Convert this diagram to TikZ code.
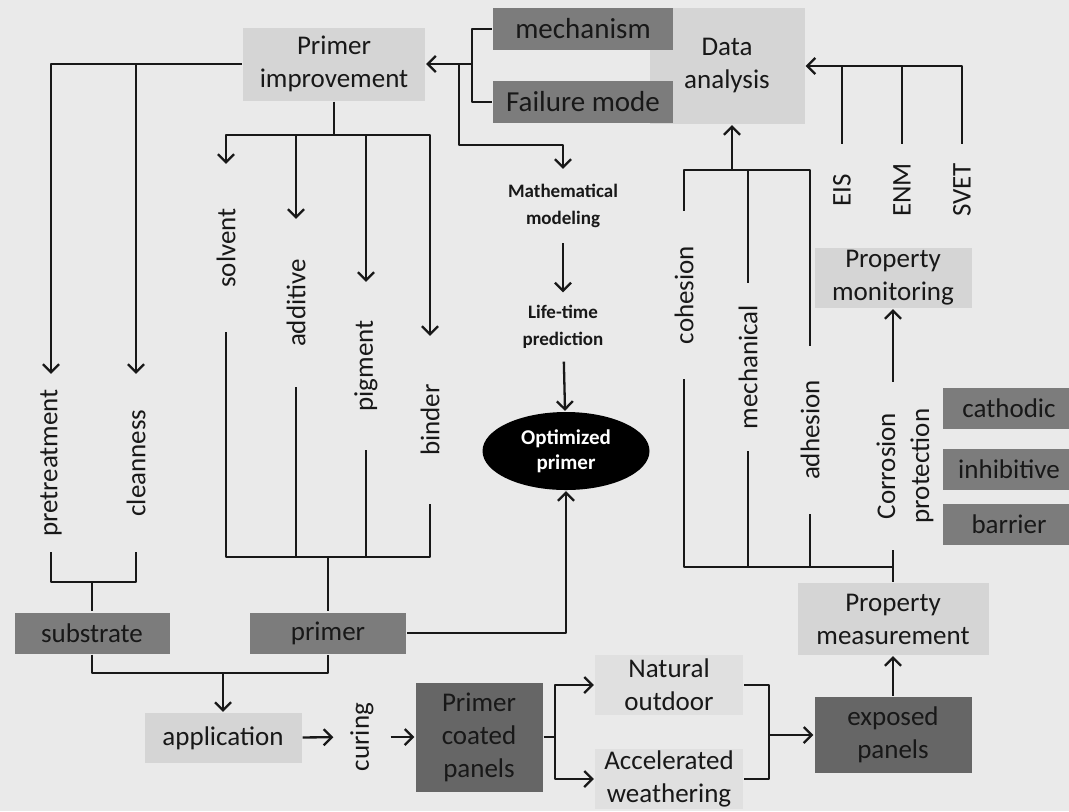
\documentclass[tikz,border=0pt]{standalone}
\usepackage{fontspec}
\setmainfont{Carlito}
\usetikzlibrary{arrows.meta,shapes.geometric}
\definecolor{paper}{RGB}{234,234,234}
\definecolor{boxlight}{RGB}{213,213,213}
\definecolor{boxfaint}{RGB}{224,224,224}
\definecolor{boxdark}{RGB}{124,124,124}
\definecolor{boxdarker}{RGB}{102,102,102}
\definecolor{ink}{RGB}{24,24,24}
\tikzset{
  lightbox/.style={fill=boxlight, inner sep=0pt, align=center},
  darkbox/.style={fill=boxdark, inner sep=0pt, align=center},
  vlabel/.style={rotate=90, inner sep=0pt, minimum width=83pt},
  smallbold/.style={font=\fontsize{9.5}{13.5}\selectfont\bfseries, align=center, inner sep=0pt},
}
\begin{document}
\begin{tikzpicture}[x=0.5pt, y=-0.5pt, font=\fontsize{13.5}{16.5}\selectfont, color=ink, line width=1.15pt, line join=round, >={Straight Barb[length=4pt,width=8pt]}]
	\fill[paper] (0,0) rectangle (1069,811);
	\useasboundingbox (0,0) rectangle (1069,811);
	
	% top row
	\node[lightbox, minimum width=77.5pt, minimum height=58pt] (data) at (727,66) {Data\\analysis};
	\node[darkbox, minimum width=90pt, minimum height=21pt, font=\fontsize{14.5}{17}\selectfont] (mech) at (583,29) {mechanism};
	\node[darkbox, minimum width=90pt, minimum height=21pt, font=\fontsize{14.5}{17}\selectfont] (fail) at (583,102) {Failure mode};
	\node[lightbox, minimum width=91pt, minimum height=36.5pt] (imp) at (334,64) {Primer\\improvement};
	
	% primer ingredients and substrate
	\node[vlabel] (solv) at (226,248) {solvent};
	\node[vlabel] (addi) at (296,303) {additive};
	\node[vlabel] (pigm) at (366,366) {pigment};
	\node[vlabel] (bind) at (430,420) {binder};
	\node[vlabel, minimum width=88pt] (pret) at (51,463) {pretreatment};
	\node[vlabel, minimum width=88pt] (clean) at (136,463) {cleanness};
	
	% modelling branch
	\node[smallbold, minimum height=36pt] (math) at (563,206) {Mathematical\\modeling};
	\node[smallbold, minimum height=33.5pt] (life) at (563,327) {Life-time\\prediction};
	\node[ellipse, fill=black, text=white, font=\fontsize{10.5}{12.5}\selectfont\bfseries, align=center,
	      minimum width=83.5pt, minimum height=39pt, inner sep=0pt] (opt) at (566,451) {Optimized\\primer};
	
	% panel preparation
	\node[darkbox, minimum width=77.5pt, minimum height=20.5pt] (subs) at (92,633) {substrate};
	\node[darkbox, minimum width=78pt, minimum height=20.5pt] (prim) at (328,633) {primer};
	\node[lightbox, minimum width=78.5pt, minimum height=25pt] (appl) at (223,738) {application};
	\node[rotate=90, inner sep=0pt, minimum height=27.5pt] (cur) at (362,737) {curing};
	\node[darkbox, fill=boxdarker, minimum width=63.5pt, minimum height=54.5pt] (pcp) at (479,737) {Primer\\coated\\panels};
	
	% exposure
	\node[lightbox, fill=boxfaint, minimum width=74pt, minimum height=30pt] (nat) at (669,685) {Natural\\outdoor};
	\node[lightbox, fill=boxfaint, minimum width=74pt, minimum height=30pt] (acc) at (669,779) {Accelerated\\weathering};
	\node[darkbox, fill=boxdarker, minimum width=78.5pt, minimum height=38pt] (expo) at (893,735) {exposed\\panels};
	
	% properties
	\node[lightbox, minimum width=95.5pt, minimum height=36pt] (pmeas) at (893,619) {Property\\measurement};
	\node[lightbox, minimum width=78.5pt, minimum height=30pt] (pmon) at (893,278) {Property\\monitoring};
	\node[vlabel, align=center, font=\fontsize{13.5}{17}\selectfont] (corr) at (905,466) {Corrosion\\protection};
	\node[vlabel] (coh) at (684,295) {cohesion};
	\node[vlabel] (mecl) at (748,367) {mechanical};
	\node[vlabel] (adh) at (810,430) {adhesion};
	\foreach \n/\x/\t in {eis/842/EIS, enm/902/ENM, svet/962/SVET}
		\node[vlabel, minimum width=45pt] (\n) at (\x,190) {\t};
	\foreach \n/\y/\t in {cath/408/cathodic, inhi/469/inhibitive, barr/524/barrier}
		\node[darkbox, minimum width=66pt, minimum height=20.5pt] (\n) at (1009,\y) {\t};
	
	% links from the top row
	\coordinate (mf) at (472,64);
	\coordinate (br) at (459,64);
	\draw (mech.west) -| (mf) |- (fail.west);
	\draw[->] (mf) -- (imp.east);
	\draw[->] (br) -- ++(0,81) -| (math.north);
	\draw[->] (math) -- (life);
	\draw[->] (life) -- (opt);
	
	% primer improvement tree
	\coordinate (ib) at (334,135);
	\draw (imp.south) -- (ib);
	\draw[->] (ib) -| (solv.east);
	\draw[->] (ib) -| (bind.east);
	\draw[->] (addi.east |- ib) -- (addi.east);
	\draw[->] (pigm.east |- ib) -- (pigm.east);
	\draw[->] (imp.west) -| (pret.east);
	\draw[->] (clean.east |- imp.west) -- (clean.east);
	
	% into substrate and primer
	\coordinate (pc) at (92,582);
	\coordinate (pb) at (328,557);
	\draw (pret.west) |- (pc) -| (clean.west);
	\draw (pc) -- (pc |- subs.north);
	\draw (solv.west) |- (pb) -| (bind.west);
	\draw (addi.west) -- (addi.west |- pb);
	\draw (pigm.west) -- (pigm.west |- pb);
	\draw (pb) -- (pb |- prim.north);
	\draw[->] (prim.east) -| (opt.south);
	
	% coating and exposure
	\coordinate (sp) at (223,673);
	\draw (subs.south) |- (sp) -| (prim.south);
	\draw[->] (sp) -- (sp |- appl.north);
	\draw[->] (appl) -- (cur);
	\draw[->] (cur) -- (cur -| pcp.west);
	\coordinate (fk) at (555,737);
	\draw (pcp.east) -- (fk);
	\draw[->] (fk) |- (nat.west);
	\draw[->] (fk) |- (acc.west);
	\coordinate (jn) at (769,735);
	\draw (nat.east) -| (jn) |- (acc.east);
	\draw[->] (jn) -- (expo.west);
	\draw[->] (expo) -- (pmeas);
	
	% property measurement tree
	\coordinate (tj) at (893,567);
	\draw (corr.west -| pmeas.north) -- (pmeas.north);
	\draw (coh.west) |- (tj);
	\draw (mecl.west) -- (mecl.west |- tj);
	\draw (adh.west) -- (adh.west |- tj);
	\draw[->] (corr.east -| pmon.south) -- (pmon.south);
	
	% towards data analysis
	\coordinate (ta) at (732,170);
	\draw (coh.east) |- (adh.east |- ta) -- (adh.east);
	\draw (mecl.east) -- (mecl.east |- ta);
	\draw[->] (ta) -- (ta |- data.south);
	\draw[->] (svet.east) |- (data.east);
	\draw (eis.east) -- (eis.east |- data.east);
	\draw (enm.east) -- (enm.east |- data.east);
\end{tikzpicture}
\end{document}
